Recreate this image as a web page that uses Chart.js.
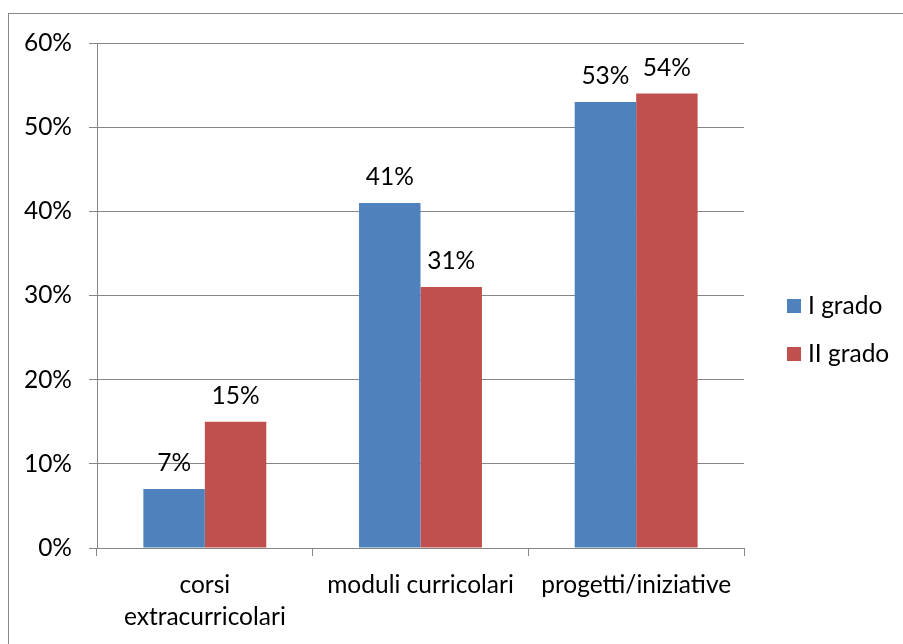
<!DOCTYPE html>
<html lang="it">
<head>
<meta charset="utf-8">
<title>Attività per grado</title>
<script src="https://cdn.jsdelivr.net/npm/chart.js@4/dist/chart.umd.min.js"></script>
<style>
  html, body { margin: 0; padding: 0; background: #fff; overflow: hidden; }
  #wrap { position: relative; width: 903px; height: 644px; }
  #frame {
    position: absolute; left: 8px; top: 13px;
    width: 1000px; height: 1000px;
    border: 1px solid #868686;
    pointer-events: none;
  }
  #chart { position: absolute; left: 0; top: 0; }
</style>
</head>
<body>
<div id="wrap">
  <div id="frame"></div>
  <canvas id="chart" width="903" height="644"></canvas>
</div>
<script>
const categories = [
  ['corsi', 'extracurricolari'],
  'moduli curricolari',
  'progetti/iniziative'
];
const seriesNames = ['I grado', 'II grado'];
const primoGrado = [7, 41, 53];
const secondoGrado = [15, 31, 54];
const yTicks = [0, 10, 20, 30, 40, 50, 60];

const colors = ['#4F81BD', '#C0504D'];
const gridColor = '#868686';
const font = { family: 'Lato', size: 24.5, lineHeight: 1.32 };

// value labels above every bar
const barLabels = {
  id: 'barLabels',
  afterDatasetsDraw(chart) {
    const { ctx } = chart;
    ctx.save();
    ctx.fillStyle = '#000';
    ctx.font = `${font.size}px ${font.family}`;
    ctx.textAlign = 'center';
    ctx.textBaseline = 'alphabetic';
    chart.data.datasets.forEach((ds, i) => {
      chart.getDatasetMeta(i).data.forEach((bar, j) => {
        ctx.fillText(ds.data[j] + '%', bar.x, bar.y - 18);
      });
    });
    ctx.restore();
  }
};

// legend on the right, squares + names
const sideLegend = {
  id: 'sideLegend',
  afterDraw(chart) {
    const { ctx, chartArea } = chart;
    const x = chartArea.right + 43;
    const y0 = 306;
    ctx.save();
    ctx.font = `${font.size}px ${font.family}`;
    ctx.textBaseline = 'middle';
    ctx.textAlign = 'left';
    chart.data.datasets.forEach((ds, i) => {
      const y = y0 + i * 48;
      ctx.fillStyle = ds.backgroundColor;
      ctx.fillRect(x, y - 7, 14, 14);
      ctx.fillStyle = '#000';
      ctx.fillText(ds.label, x + 21, y);
    });
    ctx.restore();
  }
};

new Chart(document.getElementById('chart'), {
  type: 'bar',
  data: {
    labels: categories,
    datasets: [
      { label: seriesNames[0], data: primoGrado, backgroundColor: colors[0] },
      { label: seriesNames[1], data: secondoGrado, backgroundColor: colors[1] }
    ]
  },
  options: {
    responsive: false,
    animation: false,
    events: [],
    layout: { padding: { top: 43, right: 159, left: 0, bottom: 0 } },
    datasets: {
      bar: { categoryPercentage: 0.57, barPercentage: 1.0, borderWidth: 0 }
    },
    plugins: {
      legend: { display: false },
      tooltip: { enabled: false }
    },
    scales: {
      x: {
        grid: {
          offset: true,
          drawOnChartArea: false,
          drawTicks: true,
          tickLength: 8,
          color: gridColor
        },
        border: { display: true, color: gridColor },
        ticks: { color: '#000', font, padding: 13, maxRotation: 0, autoSkip: false },
        afterFit(scale) { scale.height = 96; }
      },
      y: {
        min: yTicks[0],
        max: yTicks[yTicks.length - 1],
        afterBuildTicks(scale) { scale.ticks = yTicks.map(v => ({ value: v })); },
        grid: { color: gridColor, tickLength: 8, drawTicks: true },
        border: { display: true, color: gridColor },
        ticks: { color: '#000', font, padding: 17, callback: v => v + '%' },
        afterFit(scale) { scale.width = 97; }
      }
    }
  },
  plugins: [barLabels, sideLegend]
});
</script>
</body>
</html>
